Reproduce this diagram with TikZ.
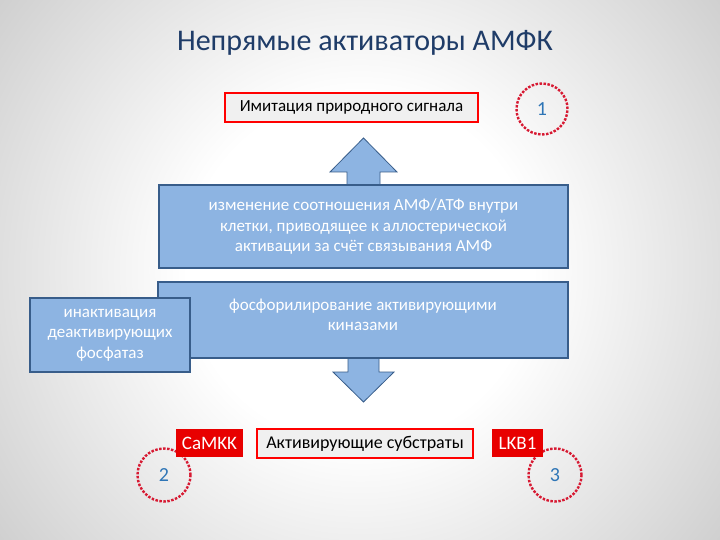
\documentclass[tikz,border=0pt]{standalone}
\usepackage{fontspec}
\setmainfont{Carlito}
\usetikzlibrary{positioning}
\definecolor{boxblue}{RGB}{141,180,226}
\definecolor{boxedge}{RGB}{56,93,138}
\definecolor{titleblue}{RGB}{31,60,104}
\definecolor{numblue}{RGB}{46,117,182}
\definecolor{tagred}{RGB}{232,0,0}
\definecolor{ringred}{RGB}{215,25,50}
\pgfdeclareradialshading{slidebg}{\pgfpoint{0bp}{0bp}}{color(0bp)=(white); color(12bp)=(white); color(37bp)=(black!24); color(50bp)=(black!37); color(64bp)=(black!47); color(71bp)=(black!47)}

\begin{document}
\begin{tikzpicture}[x=1pt, y=-1pt]
        \tikzstyle{bluebox}=[rectangle, draw=boxedge, line width=1.6pt, fill=boxblue, inner sep=0pt]
        \tikzstyle{boxtext}=[text=white, font=\fontsize{17}{20.5}\selectfont, align=center]
        \tikzstyle{redframe}=[rectangle, draw=red, line width=1.6pt, fill=white!94!black, inner sep=0pt, font=\fontsize{17}{20}\selectfont]
        \tikzstyle{redtag}=[rectangle, fill=tagred, text=white, inner sep=0pt, font=\fontsize{19}{22}\selectfont]
        \tikzstyle{ring}=[circle, draw=ringred, line width=2.4pt, dash pattern=on 2.5pt off 1.5pt, inner sep=0pt, minimum size=51pt, text=numblue, font=\fontsize{20}{22}\selectfont]
        \tikzstyle{blockarrow}=[draw=boxedge, line width=0.8pt, fill=boxblue, line join=miter]

        \useasboundingbox (0,0) rectangle (720,540);
        \begin{scope}
            \clip (0,0) rectangle (720,540);
            \shade[shading=slidebg] (0,-90) rectangle (720,630);
        \end{scope}

        \node[font=\fontsize{30}{34}\selectfont, text=titleblue] (title) at (365,43) {Непрямые активаторы АМФК};

        \node[ring] (n1) at (542,109) {1};
        \node[ring, minimum size=53pt] (n2) at (164,475) {2};
        \node[ring, minimum size=53pt] (n3) at (555,475) {3};

        % block arrows
        \draw[blockarrow] (347,190) -- (347,172) -- (330,172) -- (363.5,138) -- (397,172) -- (380,172) -- (380,190) -- cycle;
        \draw[blockarrow] (348,352) -- (348,372) -- (333,372) -- (363.5,402) -- (394,372) -- (379,372) -- (379,352) -- cycle;

        \node[bluebox, boxtext, minimum width=409pt, minimum height=83pt] (chg) at (363.5,226.5) {изменение соотношения АМФ/АТФ внутри\\клетки, приводящее к аллостерической\\активации за счёт связывания АМФ};
        \node[bluebox, minimum width=410pt, minimum height=76pt] (phos) at (363,320) {};
        \node[boxtext, below=14pt of phos.north] (phostxt) {фосфорилирование активирующими\\киназами};
        \node[bluebox, boxtext, minimum width=160pt, minimum height=74pt] (inact) at (110,335) {инактивация\\деактивирующих\\фосфатаз};

        \node[redframe, minimum width=253pt, minimum height=29pt] (sig) at (351.5,107.5) {Имитация природного сигнала};
        \node[redtag, minimum width=67pt, minimum height=28pt] (camkk) at (209.5,443) {CaMKK};
        \node[redframe, minimum width=216pt, minimum height=29pt, font=\fontsize{18}{21}\selectfont] (subs) at (365,443.5) {Активирующие субстраты};
        \node[redtag, minimum width=51pt, minimum height=28pt] (lkb) at (517.5,443) {LKB1};
    \end{tikzpicture}
\end{document}
